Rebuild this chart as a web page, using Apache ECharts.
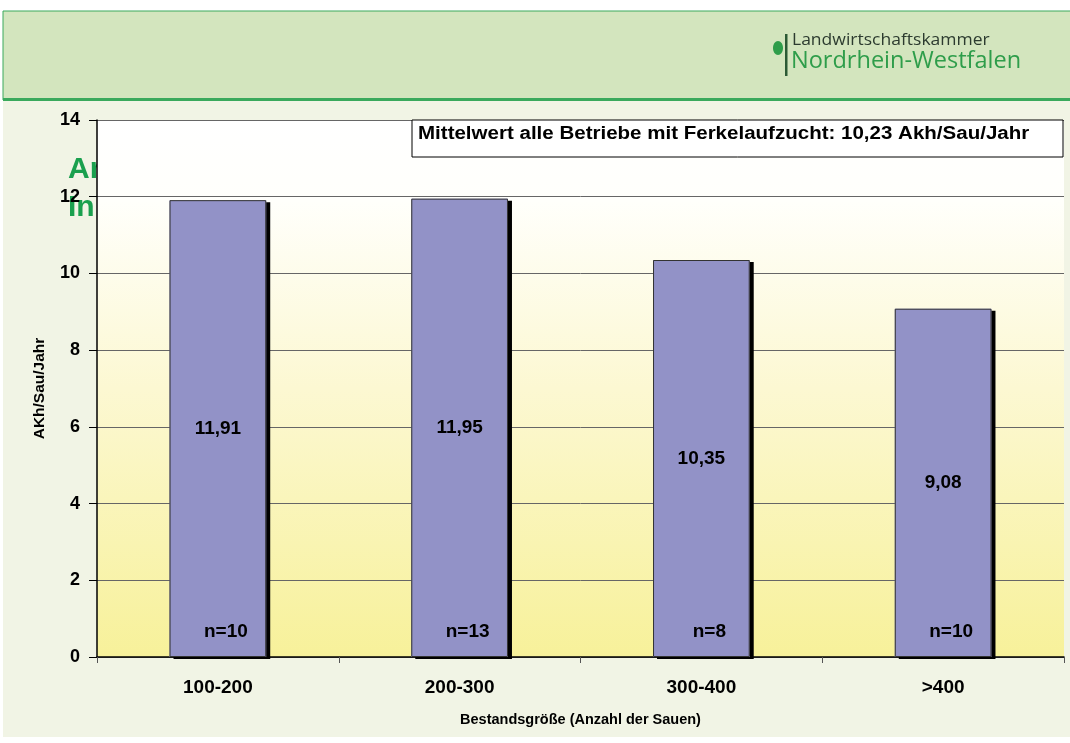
<!DOCTYPE html>
<html>
<head>
<meta charset="utf-8">
<script src="https://cdn.jsdelivr.net/npm/echarts@6/dist/echarts.min.js"></script>
<style>
  html, body { margin: 0; padding: 0; background: #fff; }
  #chart { width: 1070px; height: 743px; }
</style>
</head>
<body>
<div id="chart"></div>
<script>
var categories = ['100-200', '200-300', '300-400', '>400'];
var values = [11.91, 11.95, 10.35, 9.08];
var counts = [10, 13, 8, 10];
var yTicks = [0, 2, 4, 6, 8, 10, 12, 14];

var chartDom = document.getElementById('chart');
var myChart = echarts.init(chartDom);

function komma(v) {
    return v.toFixed(2).replace('.', ',');
}

var boldFont = 'Liberation Sans';

var option = {
    animation: false,
    backgroundColor: '#ffffff',
    graphic: [
        // page background below header
        { type: 'rect', z: -10, shape: { x: 3, y: 100, width: 1067, height: 637 }, style: { fill: '#f1f4e5' } },
        // header band
        { type: 'rect', z: -9, shape: { x: 3, y: 11, width: 1070, height: 89 }, style: { fill: '#d3e5be', stroke: '#3aa95c', lineWidth: 1 } },
        { type: 'rect', z: -8, shape: { x: 3, y: 98, width: 1067, height: 3 }, style: { fill: '#3aa95c' } },
        // logo
        { type: 'ellipse', z: -7, shape: { cx: 778, cy: 48, rx: 5, ry: 7 }, style: { fill: '#2e9d4a' } },
        { type: 'rect', z: -7, shape: { x: 785, y: 34, width: 2.5, height: 42 }, style: { fill: '#2b5a35' } },
        { type: 'text', z: -7, x: 792, y: 32, scaleX: 1.03, style: { text: 'Landwirtschaftskammer', font: '17px "Open Sans", sans-serif', fill: '#2c3b2f' } },
        { type: 'text', z: -7, x: 791, y: 49, scaleX: 0.98, style: { text: 'Nordrhein-Westfalen', font: '24px "Open Sans", sans-serif', fill: '#2e9d4a' } },
        // slide title partly hidden behind the plot
        { type: 'text', z: -6, left: 68, top: 155, style: { text: 'Ar', font: 'bold 30px "Liberation Sans", Arial, sans-serif', fill: '#1aa04e' } },
        { type: 'text', z: -6, left: 68, top: 193, style: { text: 'In', font: 'bold 30px "Liberation Sans", Arial, sans-serif', fill: '#1aa04e' } },
        // mean value box
        { type: 'rect', z: 20, shape: { x: 412, y: 120, width: 651, height: 37 }, style: { fill: '#ffffff', stroke: '#000', lineWidth: 1 } },
        { type: 'text', z: 21, x: 418, y: 125, scaleX: 1.14, style: { text: 'Mittelwert alle Betriebe mit Ferkelaufzucht: 10,23 Akh/Sau/Jahr', font: 'bold 18px "Liberation Sans", Arial, sans-serif', fill: '#000' } }
    ],
    grid: {
        left: 97,
        right: 6,
        top: 120,
        bottom: 86,
        show: true,
        borderWidth: 0,
        backgroundColor: {
            type: 'linear', x: 0, y: 0, x2: 0, y2: 1,
            colorStops: [
                { offset: 0, color: '#ffffff' },
                { offset: 0.15, color: '#fffffb' },
                { offset: 0.5, color: '#fcf8d2' },
                { offset: 1, color: '#f7f19a' }
            ]
        }
    },
    xAxis: {
        type: 'category',
        data: categories,
        name: 'Bestandsgröße (Anzahl der Sauen)',
        nameLocation: 'middle',
        nameGap: 55,
        nameTextStyle: { fontFamily: boldFont, fontWeight: 'bold', fontSize: 14.5, color: '#000' },
        axisLine: { lineStyle: { color: '#000', width: 1.5 } },
        axisTick: { show: true, alignWithLabel: false, length: 6, lineStyle: { color: '#555' } },
        axisLabel: { margin: 21, fontFamily: boldFont, fontWeight: 'bold', fontSize: 19, color: '#000' }
    },
    yAxis: {
        type: 'value',
        min: yTicks[0],
        max: yTicks[yTicks.length - 1],
        interval: 2,
        name: 'AKh/Sau/Jahr',
        nameLocation: 'middle',
        nameGap: 49,
        nameTextStyle: { fontFamily: boldFont, fontWeight: 'bold', fontSize: 15.5, color: '#000' },
        axisLine: { show: true, lineStyle: { color: '#000', width: 1.5 } },
        axisTick: { show: true, inside: false, length: 8, lineStyle: { color: '#000' } },
        axisLabel: { margin: 17, fontFamily: boldFont, fontWeight: 'bold', fontSize: 18, color: '#000' },
        splitLine: { show: true, lineStyle: { color: '#666', width: 1 } }
    },
    series: [
        {
            // filled bars with drop shadow
            type: 'bar',
            data: values,
            barWidth: '40%',
            z: 5,
            itemStyle: {
                color: '#9292c7',
                borderWidth: 0,
                shadowColor: '#000',
                shadowBlur: 0,
                shadowOffsetX: 4,
                shadowOffsetY: 2
            },
            label: {
                show: true,
                position: 'inside',
                formatter: function (p) { return komma(p.value); },
                fontFamily: boldFont,
                fontWeight: 'bold',
                fontSize: 19,
                color: '#000'
            }
        },
        {
            // outline + count labels
            type: 'bar',
            data: values,
            barWidth: '40%',
            barGap: '-100%',
            z: 6,
            itemStyle: { color: 'rgba(0,0,0,0)', borderColor: '#333', borderWidth: 1 },
            label: {
                show: true,
                position: 'insideBottom',
                distance: 16,
                offset: [8, 0],
                formatter: function (p) { return 'n=' + counts[p.dataIndex]; },
                fontFamily: boldFont,
                fontWeight: 'bold',
                fontSize: 19,
                color: '#000'
            }
        }
    ]
};

option && myChart.setOption(option);
</script>
</body>
</html>
